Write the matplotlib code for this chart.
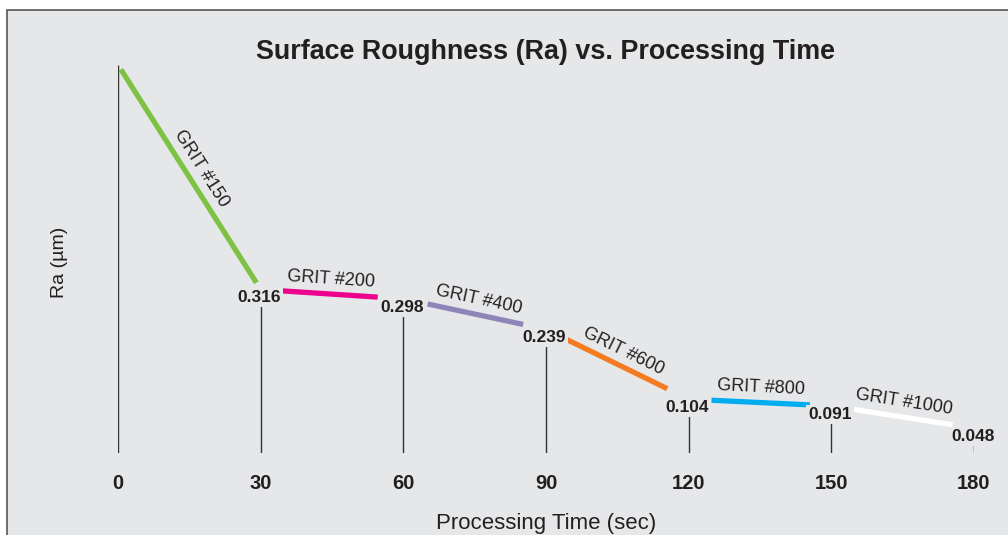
import numpy as np
import matplotlib
matplotlib.use("Agg")
import matplotlib.pyplot as plt
from matplotlib.patches import Rectangle

plt.rcParams['font.family'] = ['Liberation Sans', 'DejaVu Sans']

# ---- data ----
times = [0, 30, 60, 90, 120, 150, 180]
ra_values = [0.75, 0.316, 0.298, 0.239, 0.104, 0.091, 0.048]
value_labels = ["", "0.316", "0.298", "0.239", "0.104", "0.091", "0.048"]
grit_labels = ["GRIT #150", "GRIT #200", "GRIT #400", "GRIT #600", "GRIT #800", "GRIT #1000"]
grit_colors = ["#7dc242", "#ec008c", "#8e86b8", "#f47b20", "#00aeef", "#ffffff"]
xtick_labels = ["0", "30", "60", "90", "120", "150", "180"]

BG = "#e6e7e9"
W, H = 1008, 535
fig = plt.figure(figsize=(W / 100, H / 100), dpi=100)
fig.patch.set_facecolor("white")

# panel background with border
fig.patches.append(Rectangle((7 / W, -0.1), 1.2, (H - 10) / H + 0.1,
                             transform=fig.transFigure, facecolor=BG,
                             edgecolor="#555555", linewidth=1.2, zorder=-10))

ax = fig.add_axes([118 / W, 82 / H, 856 / W, 414 / H])
ax.set_zorder(5)
ax.set_xlim(0, 180)
ax.set_ylim(0, 0.8)
ax.patch.set_alpha(0)
for s in ax.spines.values():
    s.set_visible(False)
ax.set_yticks([])
ax.set_xticks(times)
ax.set_xticklabels(xtick_labels, fontsize=14.5, fontweight="bold", color="#231f20")
ax.tick_params(axis="x", length=0, pad=15)

# vertical drop lines
ax.vlines(times, 0, ra_values, color="#333333", linewidth=1.0, zorder=1)

# value labels (background box hides the top of each drop line)
for t, v, lab in zip(times, ra_values, value_labels):
    if lab:
        ax.annotate(lab, (t, v), xytext=(-1, -6), textcoords="offset points",
                    ha="center", va="center", fontsize=12.5, fontweight="bold",
                    color="#231f20", zorder=3,
                    bbox=dict(boxstyle="square,pad=0.12", fc=BG, ec="none"))

# shortened segments + grit labels
starts = [0.02, 0.15, 0.17, 0.14, 0.16, 0.14]
ends = [0.97, 0.82, 0.84, 0.85, 0.85, 0.85]
fig.canvas.draw()
for i in range(len(grit_labels)):
    x0, x1 = times[i], times[i + 1]
    y0, y1 = ra_values[i], ra_values[i + 1]
    a, b = starts[i], ends[i]
    xs = [x0 + a * (x1 - x0), x0 + b * (x1 - x0)]
    ys = [y0 + a * (y1 - y0), y0 + b * (y1 - y0)]
    ax.plot(xs, ys, color=grit_colors[i], linewidth=3.8, solid_capstyle="butt", zorder=2)
    p0 = ax.transData.transform((xs[0], ys[0]))
    p1 = ax.transData.transform((xs[1], ys[1]))
    ang = np.degrees(np.arctan2(p1[1] - p0[1], p1[0] - p0[0]))
    mx, my = (xs[0] + xs[1]) / 2, (ys[0] + ys[1]) / 2
    # perpendicular offset (upper-right side of the line)
    r = np.radians(ang)
    d = 10.5
    ox, oy = -np.sin(r) * d, np.cos(r) * d
    ax.annotate(grit_labels[i], (mx, my), xytext=(ox, oy), textcoords="offset points",
                ha="center", va="center", rotation=ang, rotation_mode="anchor",
                fontsize=13, color="#231f20", zorder=3)

fig.text(545 / W, 1 - 52 / H, "Surface Roughness (Ra) vs. Processing Time",
         ha="center", va="center", fontsize=19.4, fontweight="bold", color="#231f20")
fig.text(60 / W, 1 - 262 / H, "Ra (µm)", ha="center", va="center", rotation=90,
         fontsize=14, color="#231f20")
fig.text(546 / W, 1 - 523 / H, "Processing Time (sec)", ha="center", va="center",
         fontsize=16, color="#231f20")

fig.savefig("out.png", dpi=100, facecolor=fig.get_facecolor())
